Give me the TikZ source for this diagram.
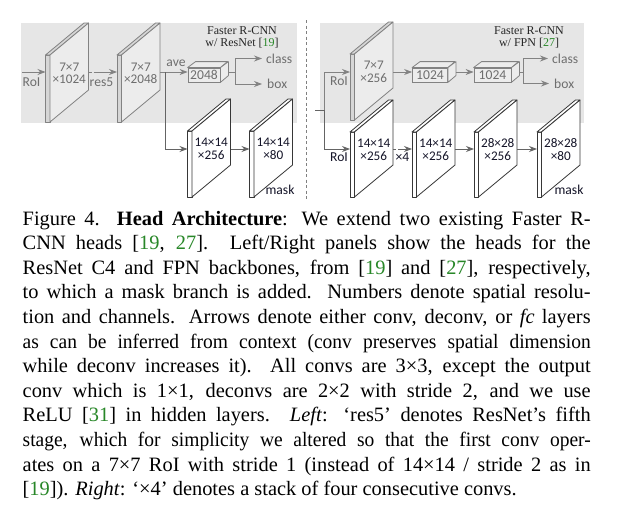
\documentclass[tikz,border=0pt]{standalone}
\usepackage{fontspec}
\setmainfont{Liberation Serif}
\newfontfamily\lblfont{Carlito}
\usetikzlibrary{arrows.meta}
\definecolor{bggray}{RGB}{230,230,230}
\definecolor{gline}{RGB}{130,130,130}
\definecolor{gtext}{RGB}{110,110,110}
\definecolor{dline}{RGB}{55,55,55}
\definecolor{dtext}{RGB}{20,20,40}
\definecolor{aline}{RGB}{100,100,100}
\definecolor{citegreen}{RGB}{40,135,40}
\definecolor{facegray}{RGB}{236,236,236}
\definecolor{stripgray}{RGB}{214,214,214}
\tikzset{
  gstrip/.style={draw=gline, fill=stripgray, line width=0.8pt, line join=round},
  gface/.style={draw=gline, fill=facegray, line width=0.8pt, line join=round},
  gtxt/.style={text=gtext, font=\lblfont\fontsize{13.2}{12.6}\selectfont, align=center, inner sep=0pt},
  wstrip/.style={draw=dline, fill=white, line width=0.8pt, line join=round},
  wface/.style={draw=dline, fill=white, line width=0.8pt, line join=round},
  wtxt/.style={text=dtext, font=\lblfont\fontsize{13.2}{12.6}\selectfont, align=center, inner sep=0pt},
  glbl/.style={text=gtext, font=\lblfont\fontsize{13.6}{14}\selectfont, inner sep=0pt},
  dlbl/.style={text=dtext, font=\lblfont\fontsize{13.6}{14}\selectfont, inner sep=0pt},
  garr/.style={draw=gline, line width=0.9pt, -{Stealth[length=8pt,width=6pt]}},
  gln/.style={draw=gline, line width=0.9pt},
  gdash/.style={draw=gline, line width=0.9pt, dash pattern=on 3pt off 2pt},
  darr/.style={draw=aline, line width=0.9pt, -{Stealth[length=8pt,width=6pt]}},
  dln/.style={draw=aline, line width=0.9pt},
  ddash/.style={draw=aline, line width=0.9pt, dash pattern=on 3pt off 2pt},
  cubefront/.style={draw=gline, fill=facegray, line width=0.8pt, text=gtext,
     font=\lblfont\fontsize{13.6}{14}\selectfont, inner sep=0pt, minimum height=14pt},
  cubeside/.style={draw=gline, fill=facegray, line width=0.8pt, line join=round},
  titletxt/.style={text=black!85, font=\fontsize{12}{11.5}\selectfont, align=center, inner sep=0pt},
  captxt/.style={text=black, font=\fontsize{20.4}{24.6}\selectfont, inner sep=0pt, anchor=base west},
  sepline/.style={draw=gray, line width=0.7pt, dash pattern=on 3pt off 2.5pt},
}
\newcommand\slab[7]{%
  \path[#5strip] (#2,#3) rectangle ++(4.5,#4);
  \path[#5strip] (#2,#3) -- ++(38.5,-32) -- ++(4.5,0) -- ++(-38.5,32) -- cycle;
  \path[#5face] ({#2+4.5},#3) -- ++(38.5,-32) -- ++(0,#4) -- ++(-38.5,32) -- cycle;
  \node[#5txt] (#1) at ({#2+23.75},{#3+#4/2-15}) {#6};
  \coordinate (#1-in) at (#2,#7);
  \coordinate (#1-out) at ({#2+43},#7);
}
\newcommand\cube[5]{%
  \node[cubefront, minimum width=#4pt] (#1) at (#2,#3) {#5};
  \path[cubeside] (#1.north west) -- ++(8,-6) -- ++(#4,0) -- (#1.north east) -- cycle;
  \path[cubeside] (#1.north east) -- ++(8,-6) -- ++(0,14) -- (#1.south east) -- cycle;
}
\newlength\capw
\setlength\capw{568pt}
\newcommand\capline[1]{\makebox[\capw][s]{#1}}
\newcommand\caplinen[1]{\makebox[\capw][s]{\addfontfeatures{FakeStretch=0.955}#1}}
\newcommand\gc[1]{\textcolor{citegreen}{#1}}
\begin{document}
\begin{tikzpicture}[x=1pt,y=-1pt]
\fill[white] (0,0) rectangle (619,530);
\useasboundingbox (0,0) rectangle (619,530);
% backgrounds
\fill[bggray] (21,23) rectangle (297,123);
\fill[bggray] (320,23) rectangle (584,123);
\coordinate (septop) at (306,20);
\coordinate (sepbot) at (306,200);
\draw[sepline] (septop) -- (sepbot);

% ---------- left panel ----------
\node[titletxt] (t1) at (242,37.5) {Faster R-CNN\\w/ ResNet [\gc{19}]};
\slab{p1}{45.5}{55}{67}{g}{7×7\\×1024}{72}
\slab{p2}{117}{55}{67}{g}{7×7\\×2048}{72}
\slab{p3}{187.5}{131}{66}{w}{14×14\\×256}{149}
\slab{p4}{249.5}{131}{66}{w}{14×14\\×80}{149}
\cube{b1}{204}{75}{32}{2048}

\coordinate (roiL) at (22,72);
\draw[garr] (roiL) -- (p1-in);
\node[glbl] (roiLt) at (31.5,82) {RoI};
\coordinate (p1-mid) at (97,72);
\draw[gdash] (p1-out) -- (p1-mid);
\draw[garr] (p1-mid) -- (p2-in);
\node[glbl] (res5) at (101.5,82) {res5};
\draw[garr] (p2-out) -- (b1.west |- p2-out);
\node[glbl] (ave) at (176,63) {ave};
\coordinate (s1) at (235,72);
\draw[gln] ([xshift=8pt]b1.east |- s1) -- (s1);
\node[glbl, anchor=west] (cls1) at (266,58.5) {class};
\node[glbl, anchor=west] (box1) at (267,84) {box};
\draw[garr] (s1) |- ([xshift=-4pt]cls1.west);
\draw[garr] (s1) |- ([xshift=-5pt]box1.west);
\coordinate (br1) at (165,72);
\draw[darr] (br1) |- (p3-in);
\draw[darr] (p3-out) -- (p4-in);
\node[dlbl] (mask1) at (280,190) {mask};

% ---------- right panel ----------
\node[titletxt] (t2) at (529,37.5) {Faster R-CNN\\w/ FPN [\gc{27}]};
\slab{r1}{350}{54}{66}{g}{7×7\\×256}{72}
\slab{r2}{350}{132}{65}{w}{14×14\\×256}{149}
\slab{r3}{412}{132}{65}{w}{14×14\\×256}{149}
\slab{r4}{474}{132}{65}{w}{28×28\\×256}{149}
\slab{r5}{537}{132}{65}{w}{28×28\\×80}{149}
\cube{b2}{430}{75}{35}{1024}
\cube{b3}{492.5}{75}{37}{1024}

\coordinate (in2) at (315,110);
\coordinate (j2) at (324,110);
\draw[dln] (in2) -- (j2);
\draw[garr] (j2) |- (r1-in);
\draw[darr] (j2) |- (r2-in);
\node[glbl] (roiR1) at (339,81) {RoI};
\node[dlbl] (roiR2) at (339,157) {RoI};
\draw[garr] (r1-out) -- (b2.west |- r1-out);
\draw[garr] ([xshift=8pt]b2.east |- r1-out) -- (b3.west |- r1-out);
\coordinate (s2) at (523,72);
\draw[gln] ([xshift=8pt]b3.east |- s2) -- (s2);
\node[glbl, anchor=west] (cls2) at (552,58.5) {class};
\node[glbl, anchor=west] (box2) at (554,83.5) {box};
\draw[garr] (s2) |- ([xshift=-4pt]cls2.west);
\draw[garr] (s2) |- ([xshift=-5pt]box2.west);
\coordinate (r2-mid) at (399,149);
\draw[ddash] (r2-out) -- (r2-mid);
\draw[darr] (r2-mid) -- (r3-in);
\node[dlbl] (x4) at (402.5,157) {×4};
\draw[darr] (r3-out) -- (r4-in);
\draw[darr] (r4-out) -- (r5-in);
\node[dlbl] (mask2) at (569,190) {mask};

% ---------- caption ----------
\node[captxt] (c1) at (22.5,225.0) {\capline{Figure 4. \textbf{Head Architecture}: We extend two existing Faster R-}};
\node[captxt] (c2) at (22.5,249.6) {\capline{CNN heads [\gc{19}, \gc{27}]. Left/Right panels show the heads for the}};
\node[captxt] (c3) at (22.5,274.2) {\capline{ResNet C4 and FPN backbones, from [\gc{19}] and [\gc{27}], respectively,}};
\node[captxt] (c4) at (22.5,298.8) {\capline{to which a mask branch is added. Numbers denote spatial resolu-}};
\node[captxt] (c5) at (22.5,323.4) {\capline{tion and channels. Arrows denote either conv, deconv, or \emph{fc} layers}};
\node[captxt] (c6) at (22.5,348.0) {\caplinen{as can be inferred from context (conv preserves spatial dimension}};
\node[captxt] (c7) at (22.5,372.6) {\capline{while deconv increases it). All convs are 3×3, except the output}};
\node[captxt] (c8) at (22.5,397.2) {\capline{conv which is 1×1, deconvs are 2×2 with stride 2, and we use}};
\node[captxt] (c9) at (22.5,421.8) {\capline{ReLU [\gc{31}] in hidden layers. \emph{Left}: `res5' denotes ResNet's fifth}};
\node[captxt] (c10) at (22.5,446.4) {\caplinen{stage, which for simplicity we altered so that the first conv oper-}};
\node[captxt] (c11) at (22.5,471.0) {\capline{ates on a 7×7 RoI with stride 1 (instead of 14×14 / stride 2 as in}};
\node[captxt] (c12) at (22.5,495.6) {[\gc{19}]). \emph{Right}: `×4' denotes a stack of four consecutive convs.};
\end{tikzpicture}
\end{document}
